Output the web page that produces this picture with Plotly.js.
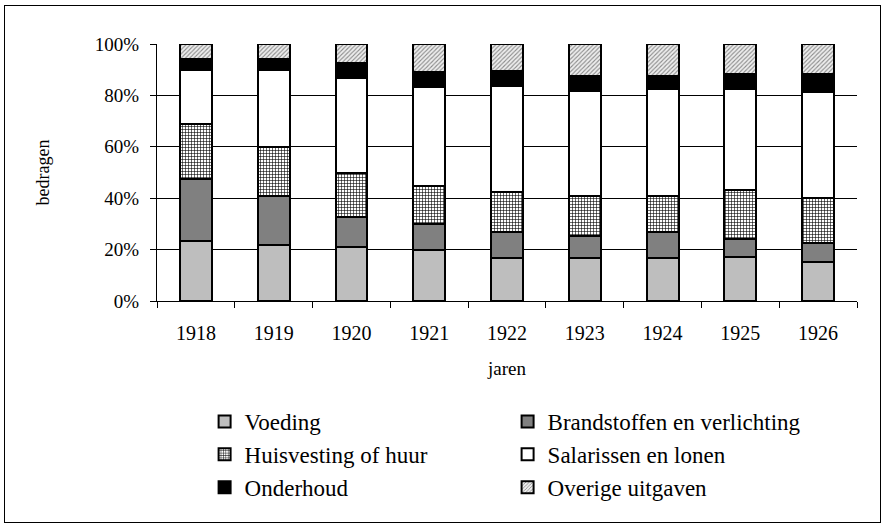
<!DOCTYPE html>
<html>
<head>
<meta charset="utf-8">
<script src="https://cdn.plot.ly/plotly-3.0.1.min.js"></script>
<style>
html,body{margin:0;padding:0;background:#fff;}
#wrap{position:relative;width:883px;height:527px;}
#chart{width:883px;height:527px;}
#frame{position:absolute;left:4px;top:5px;width:875px;height:516px;border:1px solid #000;pointer-events:none;}
</style>
</head>
<body>
<div id="wrap"><div id="chart"></div><div id="frame"></div></div>
<script>
const years = ['1918','1919','1920','1921','1922','1923','1924','1925','1926'];
const voeding      = [23.3, 21.8, 21.0, 19.8, 16.6, 16.6, 16.6, 17.2, 15.3];
const brandstoffen = [24.2, 19.2, 11.8, 10.0, 10.4,  8.8, 10.4,  6.8,  7.1];
const huisvesting  = [21.4, 18.8, 16.9, 15.1, 15.3, 15.6, 14.0, 19.2, 17.8];
const salarissen   = [21.0, 30.1, 37.2, 38.2, 41.5, 40.8, 41.5, 39.3, 41.0];
const onderhoud    = [ 4.1,  4.1,  5.8,  5.9,  5.8,  5.7,  5.0,  5.8,  7.1];
const overige      = [ 6.0,  6.0,  7.3, 11.0, 10.4, 12.5, 12.5, 11.7, 11.7];
const seriesNames = ['Voeding','Brandstoffen en verlichting','Huisvesting of huur','Salarissen en lonen','Onderhoud','Overige uitgaven'];

const FONT = 'Liberation Serif, Times New Roman, serif';
const seriesData = [voeding, brandstoffen, huisvesting, salarissen, onderhoud, overige];
const styles = [
  {color:'#d4d4d4', pattern:{shape:'.', fgcolor:'#a0a0a0', bgcolor:'#d6d6d6', size:2, solidity:0.5}},
  {color:'#808080'},
  {color:'#ffffff', pattern:{shape:'+', fgcolor:'#000000', bgcolor:'#ffffff', size:3, solidity:0.35}},
  {color:'#ffffff'},
  {color:'#000000'},
  {color:'#e0e0e0', pattern:{shape:'/', fgcolor:'#8a8a8a', bgcolor:'#eeeeee', size:3, solidity:0.35}}
];

const traces = seriesData.map((vals, i) => {
  const m = {color: styles[i].color, line:{color:'#000', width:2}};
  if (styles[i].pattern) m.pattern = styles[i].pattern;
  return {type:'bar', x:years, y:vals, name:seriesNames[i], marker:m};
});

const layout = {
  width:883, height:527,
  barmode:'stack', barnorm:'percent', bargap:0.59,
  paper_bgcolor:'#fff', plot_bgcolor:'#fff',
  font:{family:FONT, color:'#000', size:18},
  margin:{l:157, r:26, t:44, b:226, autoexpand:false},
  xaxis:{
    type:'category', tickson:'boundaries', ticks:'outside', ticklen:6, tickcolor:'#000', tickwidth:1,
    showline:true, linecolor:'#000', linewidth:1, showgrid:false, ticklabelstandoff:14,
    tickfont:{family:FONT, size:20}, title:{text:'jaren', font:{family:FONT, size:19}, standoff:18}
  },
  yaxis:{
    range:[0,100], tickvals:[0,20,40,60,80,100], ticktext:['0%','20%','40%','60%','80%','100%'],
    ticks:'outside', ticklen:6, tickcolor:'#000', showline:true, linecolor:'#000', linewidth:1,
    showgrid:true, gridcolor:'#000', gridwidth:1, zeroline:false, ticklabelstandoff:7,
    tickfont:{family:FONT, size:19}, title:{text:'bedragen', font:{family:FONT, size:18}, standoff:40}
  },
  showlegend:true,
  legend:{orientation:'h', x:0.068, xanchor:'left', y:-0.385, yanchor:'top', entrywidth:258,
    font:{family:FONT, size:23}, traceorder:'normal', itemwidth:30, tracegroupgap:0}
};
Plotly.newPlot('chart', traces, layout, {displayModeBar:false, staticPlot:true});
</script>
</body>
</html>
